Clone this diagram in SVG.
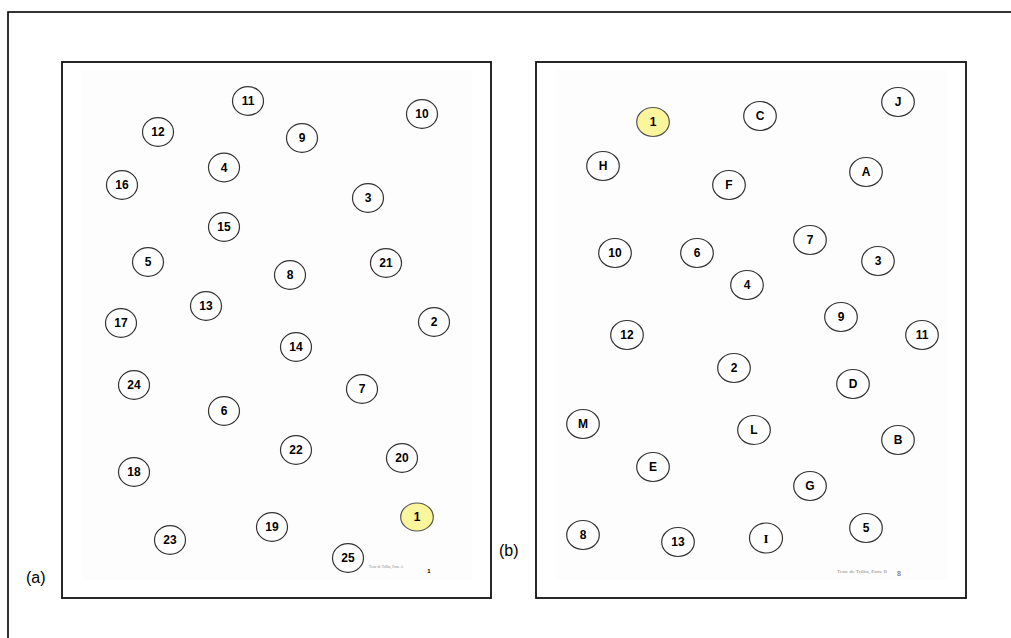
<svg xmlns="http://www.w3.org/2000/svg" width="1011" height="638" viewBox="0 0 1011 638">
<style>
.frame{fill:none;stroke:#000;stroke-width:1.6}
.panel{fill:#fff;stroke:#111;stroke-width:1.8}
.inner{fill:#fdfdfd;stroke:none}
.n ellipse{fill:#fff;stroke:#333;stroke-width:1.2}
.n.y ellipse{fill:#fbf59b;stroke:#555}
.n text{font-family:"Liberation Sans",Arial,sans-serif;font-weight:bold;font-size:12px;text-anchor:middle;fill:#000}
.n text.s{font-family:"Liberation Serif","Times New Roman",serif;font-size:13px}
.lbl{font-family:"Liberation Sans",Arial,sans-serif;font-size:16px;fill:#000}
.foot{font-family:"Liberation Serif","Times New Roman",serif;font-size:5px;fill:#888}
</style>
<rect x="0" y="0" width="1011" height="638" fill="#fff"/>
<rect class="frame" x="8" y="12" width="1010" height="640"/>
<rect class="panel" x="62" y="62" width="429" height="536"/>
<rect class="inner" x="82" y="70" width="390" height="510"/>
<rect class="panel" x="536" y="62" width="430" height="536"/>
<rect class="inner" x="556" y="70" width="391" height="510"/>
<text class="lbl" x="26" y="583">(a)</text>
<text class="lbl" x="499" y="556">(b)</text>
<text class="foot" x="369" y="568" textLength="34" lengthAdjust="spacingAndGlyphs">Teste de Trilha, Parte A</text>
<text x="429" y="573" font-family="Liberation Sans,Arial,sans-serif" font-size="6" font-weight="bold" fill="#000" text-anchor="middle">1</text>
<text class="foot" x="837" y="573" textLength="50" lengthAdjust="spacingAndGlyphs">Teste de Trilha, Parte B</text>
<text x="899" y="576" font-family="Liberation Sans,Arial,sans-serif" font-size="7" font-weight="bold" fill="#888" text-anchor="middle">8</text>
<g id="panelA">
<g id="a11" class="n"><ellipse cx="248" cy="101" rx="15.5" ry="14.3"/><text x="248" y="105">11</text></g>
<g id="a12" class="n"><ellipse cx="158" cy="132" rx="15.5" ry="14.3"/><text x="158" y="136">12</text></g>
<g id="a10" class="n"><ellipse cx="422" cy="114" rx="15.5" ry="14.3"/><text x="422" y="118">10</text></g>
<g id="a9" class="n"><ellipse cx="302" cy="138" rx="15.5" ry="14.3"/><text x="302" y="142">9</text></g>
<g id="a4" class="n"><ellipse cx="224" cy="167.5" rx="15.5" ry="14.3"/><text x="224" y="171.5">4</text></g>
<g id="a16" class="n"><ellipse cx="122" cy="185" rx="15.5" ry="14.3"/><text x="122" y="189">16</text></g>
<g id="a3" class="n"><ellipse cx="368" cy="198" rx="15.5" ry="14.3"/><text x="368" y="202">3</text></g>
<g id="a15" class="n"><ellipse cx="224" cy="227" rx="15.5" ry="14.3"/><text x="224" y="231">15</text></g>
<g id="a5" class="n"><ellipse cx="148" cy="262" rx="15.5" ry="14.3"/><text x="148" y="266">5</text></g>
<g id="a8" class="n"><ellipse cx="290" cy="275" rx="15.5" ry="14.3"/><text x="290" y="279">8</text></g>
<g id="a21" class="n"><ellipse cx="386" cy="263" rx="15.5" ry="14.3"/><text x="386" y="267">21</text></g>
<g id="a13" class="n"><ellipse cx="206" cy="306" rx="15.5" ry="14.3"/><text x="206" y="310">13</text></g>
<g id="a17" class="n"><ellipse cx="121" cy="323" rx="15.5" ry="14.3"/><text x="121" y="327">17</text></g>
<g id="a2" class="n"><ellipse cx="434" cy="322" rx="15.5" ry="14.3"/><text x="434" y="326">2</text></g>
<g id="a14" class="n"><ellipse cx="296" cy="347" rx="15.5" ry="14.3"/><text x="296" y="351">14</text></g>
<g id="a24" class="n"><ellipse cx="134" cy="385" rx="15.5" ry="14.3"/><text x="134" y="389">24</text></g>
<g id="a7" class="n"><ellipse cx="362" cy="389" rx="15.5" ry="14.3"/><text x="362" y="393">7</text></g>
<g id="a6" class="n"><ellipse cx="224" cy="411" rx="15.5" ry="14.3"/><text x="224" y="415">6</text></g>
<g id="a22" class="n"><ellipse cx="296" cy="450" rx="15.5" ry="14.3"/><text x="296" y="454">22</text></g>
<g id="a20" class="n"><ellipse cx="402" cy="458" rx="15.5" ry="14.3"/><text x="402" y="462">20</text></g>
<g id="a18" class="n"><ellipse cx="134" cy="472" rx="15.5" ry="14.3"/><text x="134" y="476">18</text></g>
<g id="a1" class="n y"><ellipse cx="417" cy="517" rx="16.3" ry="14"/><text x="417" y="521">1</text></g>
<g id="a19" class="n"><ellipse cx="272" cy="527" rx="15.5" ry="14.3"/><text x="272" y="531">19</text></g>
<g id="a23" class="n"><ellipse cx="170" cy="540" rx="15.5" ry="14.3"/><text x="170" y="544">23</text></g>
<g id="a25" class="n"><ellipse cx="348" cy="558" rx="15.5" ry="14.3"/><text x="348" y="562">25</text></g>
</g>
<g id="panelB">
<g id="b1" class="n y"><ellipse cx="653" cy="122" rx="16.3" ry="14.5"/><text x="653" y="126">1</text></g>
<g id="bC" class="n"><ellipse cx="760" cy="116" rx="16.3" ry="14.5"/><text x="760" y="120">C</text></g>
<g id="bJ" class="n"><ellipse cx="898" cy="102" rx="16.3" ry="14.5"/><text x="898" y="106">J</text></g>
<g id="bH" class="n"><ellipse cx="603" cy="166" rx="16.3" ry="14.5"/><text x="603" y="170">H</text></g>
<g id="bF" class="n"><ellipse cx="729" cy="185" rx="16.3" ry="14.5"/><text x="729" y="189">F</text></g>
<g id="bA" class="n"><ellipse cx="866" cy="172" rx="16.3" ry="14.5"/><text x="866" y="176">A</text></g>
<g id="b7" class="n"><ellipse cx="810" cy="240" rx="16.3" ry="14.5"/><text x="810" y="244">7</text></g>
<g id="b10" class="n"><ellipse cx="615" cy="253" rx="16.3" ry="14.5"/><text x="615" y="257">10</text></g>
<g id="b6" class="n"><ellipse cx="697" cy="253" rx="16.3" ry="14.5"/><text x="697" y="257">6</text></g>
<g id="b3" class="n"><ellipse cx="878" cy="261" rx="16.3" ry="14.5"/><text x="878" y="265">3</text></g>
<g id="b4" class="n"><ellipse cx="747" cy="285" rx="16.3" ry="14.5"/><text x="747" y="289">4</text></g>
<g id="b9" class="n"><ellipse cx="841" cy="317" rx="16.3" ry="14.5"/><text x="841" y="321">9</text></g>
<g id="b12" class="n"><ellipse cx="627" cy="335" rx="16.3" ry="14.5"/><text x="627" y="339">12</text></g>
<g id="b11" class="n"><ellipse cx="922" cy="335" rx="16.3" ry="14.5"/><text x="922" y="339">11</text></g>
<g id="b2" class="n"><ellipse cx="734" cy="368" rx="16.3" ry="14.5"/><text x="734" y="372">2</text></g>
<g id="bD" class="n"><ellipse cx="853" cy="384" rx="16.3" ry="14.5"/><text x="853" y="388">D</text></g>
<g id="bM" class="n"><ellipse cx="583" cy="424" rx="16.3" ry="14.5"/><text x="583" y="428">M</text></g>
<g id="bL" class="n"><ellipse cx="754" cy="430" rx="16.3" ry="14.5"/><text x="754" y="434">L</text></g>
<g id="bB" class="n"><ellipse cx="898" cy="440" rx="16.3" ry="14.5"/><text x="898" y="444">B</text></g>
<g id="bE" class="n"><ellipse cx="653" cy="467" rx="16.3" ry="14.5"/><text x="653" y="471">E</text></g>
<g id="bG" class="n"><ellipse cx="810" cy="486" rx="16.3" ry="14.5"/><text x="810" y="490">G</text></g>
<g id="b8" class="n"><ellipse cx="583" cy="535" rx="16.3" ry="14.5"/><text x="583" y="539">8</text></g>
<g id="b13" class="n"><ellipse cx="678" cy="542" rx="16.3" ry="14.5"/><text x="678" y="546">13</text></g>
<g id="bI" class="n"><ellipse cx="766" cy="538" rx="16.5" ry="15"/><text class="s" x="766" y="542.5">I</text></g>
<g id="b5" class="n"><ellipse cx="866" cy="528" rx="16.3" ry="14.5"/><text x="866" y="532">5</text></g>
</g>
</svg>
